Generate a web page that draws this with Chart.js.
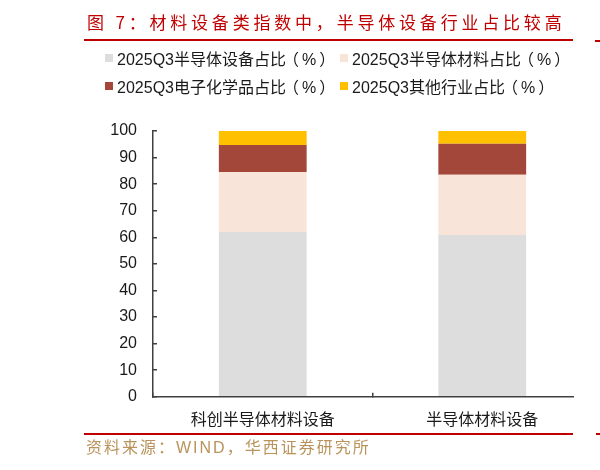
<!DOCTYPE html>
<html>
<head>
<meta charset="utf-8">
<script src="https://cdn.jsdelivr.net/npm/chart.js@4.4.1/dist/chart.umd.min.js"></script>
<style>
  html, body { margin: 0; padding: 0; background: #fff; }
  #wrap { position: relative; width: 600px; height: 470px; overflow: hidden; }
  #chart { position: absolute; left: 0; top: 0; }
  #title {
    position: absolute; left: 87px; top: 9.5px; line-height: 24px;
    font-family: "Noto Sans CJK SC"; font-size: 17px; letter-spacing: 3.8px;
    color: #C00000; white-space: nowrap;
  }
  #source {
    position: absolute; left: 86px; top: 438px; line-height: 20px;
    font-family: "Liberation Sans", "Noto Sans CJK SC"; font-size: 16px; letter-spacing: 2px;
    color: #B9935B; white-space: nowrap;
  }
  #legend {
    position: absolute; left: 105px; top: 44px; width: 480px;
    display: grid; grid-template-columns: 235px 235px; grid-auto-rows: 28px;
    font-family: "Liberation Sans", "Noto Sans CJK SC"; font-size: 16px; color: #1a1a1a;
  }
  #legend .item { display: flex; align-items: center; white-space: nowrap; }
  #legend .box { width: 8px; height: 8px; margin-right: 4px; flex: none; }
  #legend .po { position: relative; left: -3px; }
  #legend .pc { position: relative; left: 3px; }
  .rule { position: absolute; height: 2px; background: #C00000; }
  #mask { position: absolute; left: 574px; top: 386px; width: 26px; height: 14px; background: #fff; }
</style>
</head>
<body>
<div id="wrap">
  <canvas id="chart" width="600" height="470"></canvas>
  <div id="title">图 7：材料设备类指数中，半导体设备行业占比较高</div>
  <div class="rule" style="left:84px; top:38.5px; width:489px;"></div>
  <div class="rule" style="left:595px; top:39.5px; width:5px;"></div>
  <div id="legend"></div>
  <div id="mask"></div>
  <div class="rule" style="left:84px; top:432.5px; width:489px;"></div>
  <div class="rule" style="left:596px; top:432.5px; width:4px;"></div>
  <div id="source">资料来源：WIND，华西证券研究所</div>
</div>
<script>
// data
const categories = ['科创半导体材料设备', '半导体材料设备'];
const equipShare = [62.0, 60.9];
const materialShare = [22.6, 22.6];
const chemShare = [10.1, 11.7];
const otherShare = [5.3, 4.8];
const seriesNames = [
  '2025Q3半导体设备占比（%）',
  '2025Q3半导体材料占比（%）',
  '2025Q3电子化学品占比（%）',
  '2025Q3其他行业占比（%）'
];
const seriesColors = ['#DDDDDD', '#F8E4D8', '#A3473A', '#FFC000'];

Chart.defaults.font.family = '"Liberation Sans", "Noto Sans CJK SC", sans-serif';
Chart.defaults.color = '#1a1a1a';

// legend as html, built from the chart's own legend items
const htmlLegend = {
  id: 'htmlLegend',
  afterUpdate(chart) {
    const box = document.getElementById('legend');
    box.innerHTML = '';
    const items = chart.options.plugins.legend.labels.generateLabels(chart);
    items.forEach(item => {
      const el = document.createElement('div');
      el.className = 'item';
      const sw = document.createElement('span');
      sw.className = 'box';
      sw.style.background = item.fillStyle;
      el.appendChild(sw);
      const txt = document.createElement('span');
      // centre the full-width brackets a little, like the original font
      for (const ch of item.text) {
        const s = document.createElement('span');
        s.textContent = ch;
        if (ch === '（') s.className = 'po';
        if (ch === '）') s.className = 'pc';
        txt.appendChild(s);
      }
      el.appendChild(txt);
      box.appendChild(el);
    });
  }
};

const values = [equipShare, materialShare, chemShare, otherShare];

new Chart(document.getElementById('chart').getContext('2d'), {
  type: 'bar',
  data: {
    labels: categories,
    datasets: values.map((v, i) => ({
      label: seriesNames[i],
      data: v,
      backgroundColor: seriesColors[i],
      borderWidth: 0,
      categoryPercentage: 1,
      barPercentage: 0.4
    }))
  },
  options: {
    responsive: false,
    animation: false,
    layout: { padding: { left: 94, right: 8, top: 131, bottom: 22 } },
    plugins: {
      legend: { display: false },
      tooltip: { enabled: false }
    },
    scales: {
      x: {
        stacked: true,
        grid: { drawOnChartArea: false, drawTicks: true, tickLength: -4, color: '#404040', lineWidth: 1.5 },
        border: { color: '#404040', width: 1.5 },
        ticks: { padding: 18, color: '#1a1a1a', font: { size: 16 } }
      },
      y: {
        stacked: true,
        min: 0,
        max: 100,
        afterFit(scale) { scale.width = 59; },
        grid: { drawOnChartArea: false, drawTicks: true, tickLength: -4, color: '#404040', lineWidth: 1.5 },
        border: { color: '#404040', width: 1.5 },
        ticks: { stepSize: 10, padding: 20, color: '#1a1a1a', font: { size: 16 } }
      }
    }
  },
  plugins: [htmlLegend]
});
</script>
</body>
</html>
